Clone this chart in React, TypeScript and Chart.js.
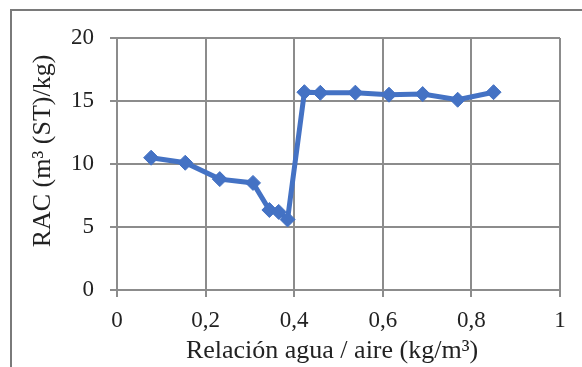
import React, { useEffect, useRef } from "react";
import { Chart, registerables } from "chart.js";

Chart.register(...registerables);

const xValues = [0.077, 0.154, 0.232, 0.307, 0.344, 0.365, 0.385, 0.423, 0.459, 0.538, 0.614, 0.690, 0.769, 0.850];
const rACValues = [10.5, 10.1, 8.8, 8.5, 6.35, 6.2, 5.6, 15.7, 15.65, 15.66, 15.5, 15.55, 15.1, 15.7];
const xTitle = "Relación agua / aire (kg/m³)  ";
const yTitle = "    RAC (m³ (ST)/kg)";

const BLUE = "#4472C4";
const GRID = "#8c8c8c";
const FONT = "'Liberation Serif', 'Times New Roman', serif";

const framePlugin = {
  id: "frame",
  beforeDraw(chart: any) {
    const ctx = chart.ctx;
    ctx.save();
    ctx.fillStyle = "#ffffff";
    ctx.fillRect(0, 0, chart.width, chart.height);
    ctx.strokeStyle = "#7a7a7a";
    ctx.lineWidth = 2;
    ctx.beginPath();
    ctx.moveTo(11, chart.height);
    ctx.lineTo(11, 10);
    ctx.lineTo(chart.width, 10);
    ctx.stroke();
    ctx.restore();
  },
};

export default function App() {
  const ref = useRef<HTMLCanvasElement | null>(null);
  useEffect(() => {
    if (!ref.current) return;
    const chart = new Chart(ref.current, {
      type: "scatter",
      data: {
        datasets: [
          {
            data: xValues.map((x, i) => ({ x, y: rACValues[i] })),
            showLine: true,
            borderColor: BLUE,
            backgroundColor: BLUE,
            borderWidth: 5,
            pointStyle: "rectRot",
            pointRadius: 7.5,
            pointBorderWidth: 1,
            pointBorderColor: BLUE,
            pointBackgroundColor: BLUE,
          },
        ],
      },
      plugins: [framePlugin],
      options: {
        animation: false,
        responsive: false,
        layout: { padding: { top: 38, right: 22, left: 0, bottom: 0 } },
        plugins: { legend: { display: false }, tooltip: { enabled: false } },
        scales: {
          x: {
            type: "linear",
            min: 0,
            max: 1,
            ticks: {
              stepSize: 0.2,
              color: "#222",
              font: { family: FONT, size: 23 },
              padding: 10,
              callback: (v: any) => String(Math.round(Number(v) * 10) / 10).replace(".", ","),
            },
            grid: { color: GRID, lineWidth: 2, tickLength: 7 },
            border: { color: GRID, width: 2 },
            title: {
              display: true,
              text: xTitle,
              color: "#222",
              font: { family: FONT, size: 26 },
              padding: { top: 0, bottom: 0 },
            },
            afterFit: (s: any) => {
              s.height = 77;
            },
          },
          y: {
            type: "linear",
            min: 0,
            max: 20,
            ticks: {
              stepSize: 5,
              color: "#222",
              font: { family: FONT, size: 23 },
              padding: 16,
            },
            grid: { color: GRID, lineWidth: 2, tickLength: 7 },
            border: { color: GRID, width: 2 },
            title: {
              display: true,
              text: yTitle,
              color: "#222",
              font: { family: FONT, size: 26 },
              padding: { top: 28, bottom: 0 },
            },
            afterFit: (s: any) => {
              s.width = 117;
            },
          },
        },
      },
    });
    return () => chart.destroy();
  }, []);
  return (
    <div style={{ position: "absolute", left: 0, top: 0, width: 582, height: 367 }}>
      <canvas ref={ref} width={582} height={367} style={{ display: "block" }} />
    </div>
  );
}
